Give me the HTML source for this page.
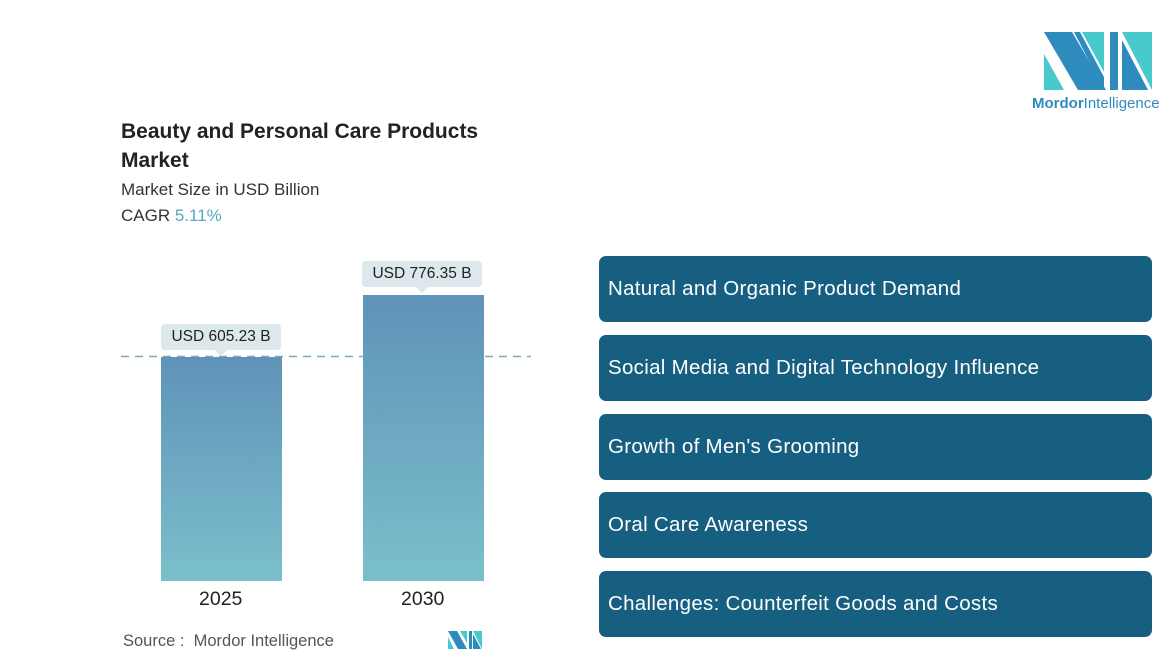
<!DOCTYPE html>
<html><head><style>
body{margin:0;width:1170px;height:663px;background:#fff;font-family:"Liberation Sans",sans-serif;position:relative;overflow:hidden}
.a{position:absolute}
.t{font-weight:bold;font-size:21px;color:#222;left:121px;top:117px;line-height:29px}
.box{position:absolute;left:599px;width:553px;height:66px;background:#175f80;border-radius:7px;color:#fff;font-size:20.5px;letter-spacing:0.3px;line-height:66px;padding-left:9px;box-sizing:border-box}
.bar{position:absolute;background:linear-gradient(#5f93b8,#7bbfcb)}
.lab{position:absolute;background:#dce8ec;border-radius:4px;font-size:15.5px;color:#222;text-align:center;height:26px;line-height:26px}
.lab:after{content:"";position:absolute;left:50%;bottom:-6px;margin-left:-6px;border:6px solid transparent;border-top-color:#dce8ec;border-bottom:0}
</style></head><body>
<svg class="a" style="left:1044px;top:32px" width="108" height="58">
<polygon points="0,0 28,0 62,58 34,58 0,0" fill="#2d8bbd"/>
<polygon points="0,22 20,58 0,58" fill="#48c9cc"/>
<polygon points="38,0 60,0 60,40" fill="#48c9cc"/>
<polygon points="30,0 36,0 60,45 60,58 " fill="#2d8bbd"/>
<rect x="66" y="0" width="8" height="58" fill="#2d8bbd"/>
<polygon points="78,0 108,0 108,58" fill="#48c9cc"/>
<polygon points="78,8 104,58 78,58" fill="#2d8bbd"/>
</svg>
<div class="a" style="left:1032px;top:95px;font-size:15px;color:#2d8bbd"><b>Mordor</b>Intelligence</div>
<div class="a t">Beauty and Personal Care Products<br>Market</div>
<div class="a" style="left:121px;top:180px;font-size:17px;color:#333">Market Size in USD Billion</div>
<div class="a" style="left:121px;top:206px;font-size:17px;color:#333">CAGR <span style="color:#5aa7c3">5.11%</span></div>
<svg class="a" style="left:121px;top:355px" width="410" height="3"><line x1="0" y1="1.5" x2="410" y2="1.5" stroke="#7aa8bf" stroke-width="1.5" stroke-dasharray="8,6"/></svg>
<div class="bar" style="left:161px;top:357px;width:121px;height:224px"></div>
<div class="bar" style="left:363px;top:295px;width:121px;height:286px"></div>
<div class="lab" style="left:161px;top:324px;width:120px">USD 605.23 B</div>
<div class="lab" style="left:362px;top:261px;width:120px">USD 776.35 B</div>
<div class="a" style="left:199px;top:588px;font-size:19.5px;color:#222">2025</div>
<div class="a" style="left:401px;top:588px;font-size:19.5px;color:#222">2030</div>
<div class="a" style="left:123px;top:632px;font-size:16.5px;color:#555">Source :&nbsp; Mordor Intelligence</div>
<svg class="a" style="left:448px;top:631px" width="34" height="18"><polygon points="0,0 9,0 19,18 10,18" fill="#2d8bbd"/><polygon points="0,6 6,18 0,18" fill="#48c9cc"/><polygon points="12,0 19,0 19,12" fill="#48c9cc"/><rect x="21" y="0" width="3" height="18" fill="#2d8bbd"/><polygon points="25,0 34,0 34,18" fill="#48c9cc"/><polygon points="25,3 33,18 25,18" fill="#2d8bbd"/></svg>
<div class="box" style="top:256px">Natural and Organic Product Demand</div>
<div class="box" style="top:335px">Social Media and Digital Technology Influence</div>
<div class="box" style="top:414px">Growth of Men's Grooming</div>
<div class="box" style="top:492px">Oral Care Awareness</div>
<div class="box" style="top:571px">Challenges: Counterfeit Goods and Costs</div>
</body></html>
